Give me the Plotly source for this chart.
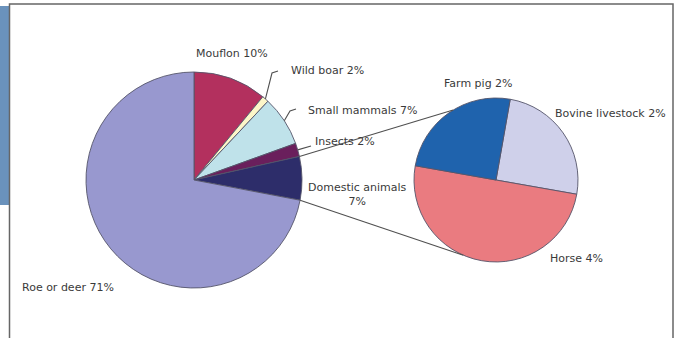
import math
import plotly.graph_objects as go

W, H = 677, 338

# ---- data ----
main_names = ["Mouflon", "Wild boar", "Small mammals", "Insects", "Domestic animals", "Roe or deer"]
main_values = [11, 1, 7.5, 2, 6.5, 72]          # slice sizes
main_text = ["Mouflon 10%", "Wild boar 2%", "Small mammals 7%", "Insects 2%",
             "Domestic animals<br>7%", "Roe or deer 71%"]
main_colors = ["#b3305e", "#fdf6c8", "#bfe2ea", "#6a1f5c", "#2d2d6a", "#9898cf"]

sub_names = ["Bovine livestock", "Horse", "Farm pig"]
sub_values = [2, 4, 2]
sub_text = ["Bovine livestock 2%", "Horse 4%", "Farm pig 2%"]
sub_colors = ["#cfd0ea", "#ea7b80", "#1f63ad"]

# ---- geometry (pixels) ----
mc, mr = (194, 180), 108
sc, sr = (496, 180), 82


def px(x):
    return x / W


def py(y):
    return 1 - y / H


def on_circle(c, r, deg):
    a = math.radians(deg)
    return c[0] + r * math.sin(a), c[1] - r * math.cos(a)


fig = go.Figure()
fig.add_trace(go.Pie(
    labels=main_names, values=main_values, sort=False, direction="clockwise",
    rotation=0, textinfo="none", hoverinfo="label+value", showlegend=False,
    marker=dict(colors=main_colors, line=dict(color="#55556a", width=0.9)),
    domain=dict(x=[px(mc[0] - mr), px(mc[0] + mr)], y=[py(mc[1] + mr), py(mc[1] - mr)]),
))
fig.add_trace(go.Pie(
    labels=sub_names, values=sub_values, sort=False, direction="clockwise",
    rotation=10, textinfo="none", hoverinfo="label+value", showlegend=False,
    marker=dict(colors=sub_colors, line=dict(color="#55556a", width=0.9)),
    domain=dict(x=[px(sc[0] - sr), px(sc[0] + sr)], y=[py(sc[1] + sr), py(sc[1] - sr)]),
))

total = sum(main_values)
cum = [0]
for v in main_values:
    cum.append(cum[-1] + v)
ang = [c / total * 360 for c in cum]
mid = [(ang[i] + ang[i + 1]) / 2 for i in range(len(main_values))]

shapes = []
line_col = "#505050"

# connectors from domestic slice to second pie
d = main_names.index("Domestic animals")
p1 = on_circle(mc, mr, ang[d])
p2 = on_circle(mc, mr, ang[d + 1])
q1 = on_circle(sc, sr, 328.5)
q2 = on_circle(sc, sr, 203.5)
for a, b in [(p1, q1), (p2, q2)]:
    shapes.append(dict(type="line", xref="paper", yref="paper",
                       x0=px(a[0]), y0=py(a[1]), x1=px(b[0]), y1=py(b[1]),
                       line=dict(color=line_col, width=1.1)))


def path(points):
    s = "M " + " L ".join(f"{px(x)},{py(y)}" for x, y in points)
    return dict(type="path", xref="paper", yref="paper", path=s,
                line=dict(color=line_col, width=1.1))


wb = on_circle(mc, mr, mid[1])
shapes.append(path([wb, (272, 73), (278, 71)]))
sm = on_circle(mc, mr, mid[2])
shapes.append(path([sm, (290, 111), (296, 109)]))
ins = on_circle(mc, mr, mid[3])
shapes.append(path([ins, (311, 146)]))

# frame & left blue bar
shapes.insert(0, dict(type="rect", xref="paper", yref="paper", x0=0, x1=px(9),
                      y0=py(205), y1=py(6), fillcolor="#6a92bc", line=dict(width=0),
                      layer="below"))
shapes.append(dict(type="path", xref="paper", yref="paper",
                   path=f"M {px(9.5)},0 L {px(9.5)},{py(4)} L {px(673)},{py(4)} L {px(673)},0",
                   line=dict(color="#666666", width=1.5)))

# labels
label_pos = {
    "Mouflon 10%": (194, 53, "left"),
    "Wild boar 2%": (289, 71, "left"),
    "Small mammals 7%": (306, 110, "left"),
    "Insects 2%": (313, 142, "left"),
    "Domestic animals<br>7%": (357, 195, "center"),
    "Roe or deer 71%": (20, 287, "left"),
    "Farm pig 2%": (442, 84, "left"),
    "Bovine livestock 2%": (553, 114, "left"),
    "Horse 4%": (548, 258, "left"),
}
annos = []
for t in main_text + sub_text:
    x, y, al = label_pos[t]
    annos.append(dict(text=t, x=px(x), y=py(y), xref="paper", yref="paper",
                      xanchor=al, yanchor="middle", showarrow=False, align="center",
                      font=dict(family="DejaVu Sans", size=11, color="#3a3a3a")))

fig.update_layout(
    width=W, height=H, margin=dict(l=0, r=0, t=0, b=0),
    paper_bgcolor="white", plot_bgcolor="white",
    shapes=shapes, annotations=annos,
)
fig.write_html("out.html")
